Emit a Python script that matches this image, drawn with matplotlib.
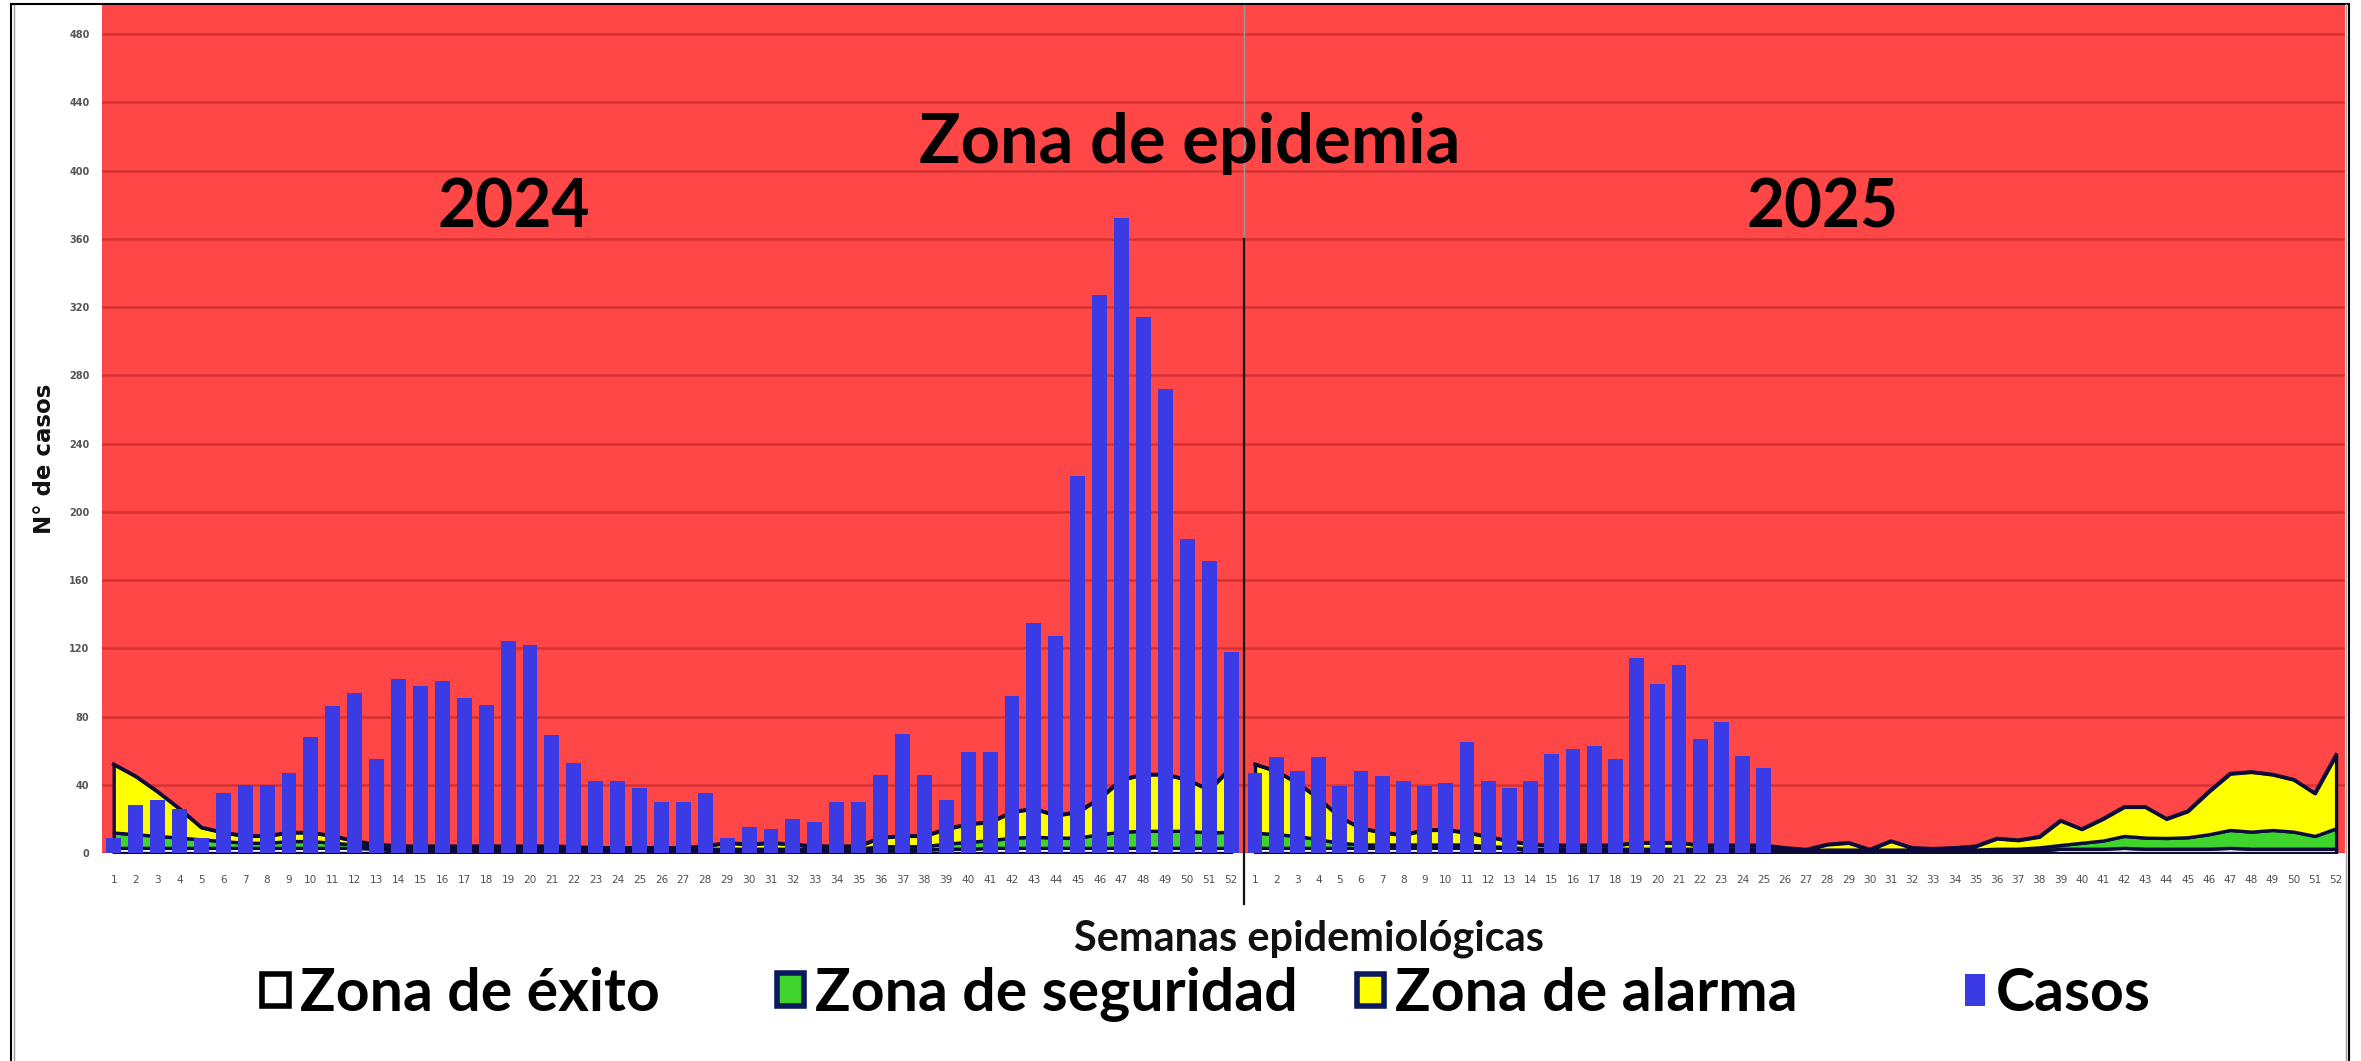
import matplotlib
matplotlib.use("Agg")
import matplotlib.pyplot as plt
from matplotlib.patches import Patch
from matplotlib.lines import Line2D
from matplotlib.font_manager import FontProperties

# ---------------- data ----------------
semanas = list(range(1, 53))
semana_labels = [str(s) for s in semanas]

casos_2024 = [9, 28, 31, 26, 9, 35, 40, 40, 47, 68,
              86, 94, 55, 102, 98, 101, 91, 87, 124, 122,
              69, 53, 42, 42, 38, 30, 30, 35, 9, 15,
              14, 20, 18, 30, 30, 46, 70, 46, 31, 59,
              59, 92, 135, 127, 221, 327, 372, 314, 272, 184,
              171, 118]
casos_2025 = [47, 56, 48, 56, 39, 48, 45, 42, 39, 41,
              65, 42, 38, 42, 58, 61, 63, 55, 114, 99,
              110, 67, 77, 57, 50, 0, 0, 0, 0, 0,
              0, 0, 0, 0, 0, 0, 0, 0, 0, 0,
              0, 0, 0, 0, 0, 0, 0, 0, 0, 0,
              0, 0]

# upper limits of each zone of the endemic channel
exito_2024 = [3, 3, 3, 3, 3, 3, 3, 3, 3, 3,
              3, 3, 2.5, 1.5, 1.5, 1.5, 1.5, 1.5, 1.5, 1.5,
              1.5, 1.5, 1.5, 1.5, 1.5, 1.5, 1.5, 1.5, 1.5, 1.5,
              1.5, 1.5, 1.5, 1.5, 1.5, 2, 2, 2, 2.5, 2.5,
              3, 3, 3, 3, 3, 3, 3, 3, 3, 3,
              3, 3]
seguridad_2024 = [12, 11, 10, 9, 8, 7, 6, 6, 7, 7,
                  6, 5, 4, 2.5, 2.5, 2.5, 2.5, 2.5, 2.5, 2.5,
                  2.5, 2.5, 2.5, 2.5, 2.5, 2.5, 2.5, 2.5, 2.5, 2.5,
                  2.5, 2.5, 2.5, 2.5, 2.5, 4, 4, 4, 5.5, 6.5,
                  7.5, 9, 9.5, 9, 9, 11, 12.5, 13, 13, 13,
                  12, 12.5]
alarma_2024 = [52, 45, 36, 26, 15, 12, 10, 10, 12, 12,
               10, 7, 5, 4, 4, 4, 4, 4, 4, 4,
               4, 3.5, 3, 3, 3, 3, 3, 4, 6, 5,
               6, 5, 4, 4, 4, 9, 10, 10, 14, 17,
               18, 24, 26, 22, 24, 32, 43, 46, 46, 43,
               37, 50]

exito_2025 = [3, 3, 3, 3, 3, 3, 3, 3, 3, 3,
              3, 3, 3, 1.5, 1.5, 1.5, 1.5, 1.5, 1.5, 1.5,
              1.5, 1.5, 1.5, 1.5, 1.5, 1.5, 1.5, 1.5, 1.5, 1.5,
              1.5, 1.5, 1.5, 1.5, 1.5, 1.5, 1.5, 1.5, 2.5, 2.5,
              2.5, 3, 2.5, 2.5, 2.5, 2.5, 3, 2.5, 2.5, 2.5,
              2.5, 2.5]
seguridad_2025 = [12, 11, 10, 8, 6, 5, 5, 5, 5, 5,
                  5, 4, 3.5, 2.5, 2.5, 2.5, 2.5, 2.5, 2.5, 2.5,
                  2.5, 2.5, 2.5, 2.5, 2.5, 2, 1.5, 2, 2, 2,
                  2, 2, 2, 2, 2, 2.5, 2.5, 3.3, 4.7, 6,
                  7.3, 10, 9, 8.8, 9.2, 11, 13.5, 12.5, 13.5, 12.5,
                  10, 14.5]
alarma_2025 = [52, 48, 41, 32, 21, 14.5, 12, 10.5, 13.5, 13.5,
               12, 9.5, 7, 5, 4.5, 4.5, 4.5, 4.5, 6, 6,
               6, 4.5, 4.5, 4.5, 4.5, 3, 2, 5, 6, 2,
               7, 3, 2.5, 3, 4, 8.5, 7.5, 9.5, 19, 14,
               20, 27, 27, 20, 24.5, 36, 46.5, 47.5, 46, 43,
               35, 57.5]

y_ticks = [0, 40, 80, 120, 160, 200, 240, 280, 320, 360, 400, 440, 480]

for arr in (casos_2024, casos_2025, exito_2024, seguridad_2024, alarma_2024,
            exito_2025, seguridad_2025, alarma_2025):
    assert len(arr) == 52

# ---------------- style ----------------
W, H, DPI = 2361, 1061, 100
RED = "#FF4747"
GRID = "#D53232"
BLUE = "#3B3BE6"
YELLOW = "#FFFF00"
GREEN = "#3ED42C"
EDGE = "#0C0C3A"

fig = plt.figure(figsize=(W / DPI, H / DPI), dpi=DPI, facecolor="white")
renderer = fig.canvas.get_renderer()

def fx(px):
    return px / W

def fy(py):
    return 1 - py / H

def fitted(text, target_w, **kw):
    fp = FontProperties(**kw)
    fp.set_size(40)
    t = fig.text(0, 0, text, fontproperties=fp)
    w = t.get_window_extent(renderer).width
    t.remove()
    fp = fp.copy()
    fp.set_size(40 * target_w / w)
    return fp

BIG = dict(family=["Lato", "DejaVu Sans"], weight="bold")

y_top, y_bot = 5, 853
ax1 = fig.add_axes([fx(102), fy(y_bot), fx(1244 - 102), (y_bot - y_top) / H])
ax2 = fig.add_axes([fx(1244), fy(y_bot), fx(2345 - 1244), (y_bot - y_top) / H], sharey=ax1)

YMAX = 497
panels = [
    (ax1, casos_2024, exito_2024, seguridad_2024, alarma_2024, (0.466, 52.59), 0.68),
    (ax2, casos_2025, exito_2025, seguridad_2025, alarma_2025, (0.48, 52.42), 0.70),
]
for ax, casos, ex, seg, ala, xl, bw in panels:
    ax.set_facecolor(RED)
    ax.set_ylim(0, YMAX)
    ax.set_xlim(*xl)
    ax.set_yticks(y_ticks)
    ax.yaxis.grid(True, color=GRID, linewidth=1.8, zorder=0)
    ax.set_axisbelow(True)
    for sp in ax.spines.values():
        sp.set_visible(False)
    ax.fill_between(semanas, 0, ex, facecolor="white", edgecolor=EDGE, linewidth=2.4, zorder=2)
    ax.fill_between(semanas, ex, seg, facecolor=GREEN, edgecolor=EDGE, linewidth=2.4, zorder=2)
    ax.fill_between(semanas, seg, ala, facecolor=YELLOW, edgecolor=EDGE, linewidth=2.4, zorder=2)
    ax.plot(semanas, ala, color=EDGE, linewidth=2.6, zorder=2.5)
    ax.bar(semanas, casos, width=bw, color=BLUE, zorder=3)
    ax.set_xticks(semanas)
    ax.set_xticklabels(semana_labels)
    ax.tick_params(axis="x", length=0, pad=16, labelsize=7.6, labelcolor="#505050")
    ax.tick_params(axis="y", length=0, pad=9, labelsize=7.0, labelcolor="#555555")
    for lab in ax.get_yticklabels():
        lab.set_fontweight("bold")

ax2.tick_params(axis="y", labelleft=False)

# divider between years
ax2.add_line(Line2D([0, 0], [360, YMAX], transform=ax2.get_yaxis_transform(),
                    color="#9a9a9a", linewidth=1.0, clip_on=False, zorder=5))
ax2.add_line(Line2D([0, 0], [-30, 360], transform=ax2.get_yaxis_transform(),
                    color="#111111", linewidth=1.6, clip_on=False, zorder=5))

# texts inside the chart
fig.text(fx(1190), fy(163), "Zona de epidemia", ha="center", va="baseline",
         fontproperties=fitted("Zona de epidemia", 541, **BIG), color="black")
fig.text(fx(514), fy(228), "2024", ha="center", va="baseline",
         fontproperties=fitted("2024", 152, **BIG), color="black")
fig.text(fx(1822), fy(228), "2025", ha="center", va="baseline",
         fontproperties=fitted("2025", 152, **BIG), color="black")

# axis titles
fig.text(fx(1309), fy(950), "Semanas epidemiológicas", ha="center", va="baseline",
         fontproperties=fitted("Semanas epidemiológicas", 470, **BIG), color="#111111")
fig.text(fx(45), fy(459), "N° de casos", ha="center", va="center", rotation=90,
         fontproperties=fitted("N° de casos", 150, family="DejaVu Sans", weight="bold"),
         color="#111111")

# legend (one entry per legend to reproduce the irregular spacing)
leg_fp = fitted("Zona de seguridad", 482, **BIG)
fs_px = leg_fp.get_size() * DPI / 72
HW, HH, PAD = 27, 28, 11
entries = [
    (Patch(facecolor="white", edgecolor="black", linewidth=4.0), "Zona de éxito", 300),
    (Patch(facecolor=GREEN, edgecolor="#0A1A5C", linewidth=4.0), "Zona de seguridad", 815),
    (Patch(facecolor=YELLOW, edgecolor="#0A1A5C", linewidth=4.0), "Zona de alarma", 1395),
    (Patch(facecolor=BLUE, edgecolor="none"), "Casos", 1996),
]
for handle, label, text_x in entries:
    hw = HW if label != "Casos" else 20
    fig.legend([handle], [label], loc="center left",
               bbox_to_anchor=(fx(text_x - hw - PAD), fy(994)),
               frameon=False, prop=leg_fp, borderpad=0, borderaxespad=0,
               handlelength=hw / fs_px, handleheight=HH / fs_px,
               handletextpad=PAD / fs_px)

# frame around the picture
fig.add_artist(Line2D([fx(11), fx(11)], [0, fy(4)], color="black", linewidth=1.5))
fig.add_artist(Line2D([fx(14), fx(14)], [0, fy(4)], color="#9a9a9a", linewidth=1.0))
fig.add_artist(Line2D([fx(11), fx(2349)], [fy(4), fy(4)], color="black", linewidth=1.5))
fig.add_artist(Line2D([fx(2349), fx(2349)], [0, fy(4)], color="black", linewidth=1.5))
fig.add_artist(Line2D([fx(2346), fx(2346)], [0, fy(4)], color="#9a9a9a", linewidth=1.0))

fig.savefig("out.png", dpi=DPI, facecolor="white")
